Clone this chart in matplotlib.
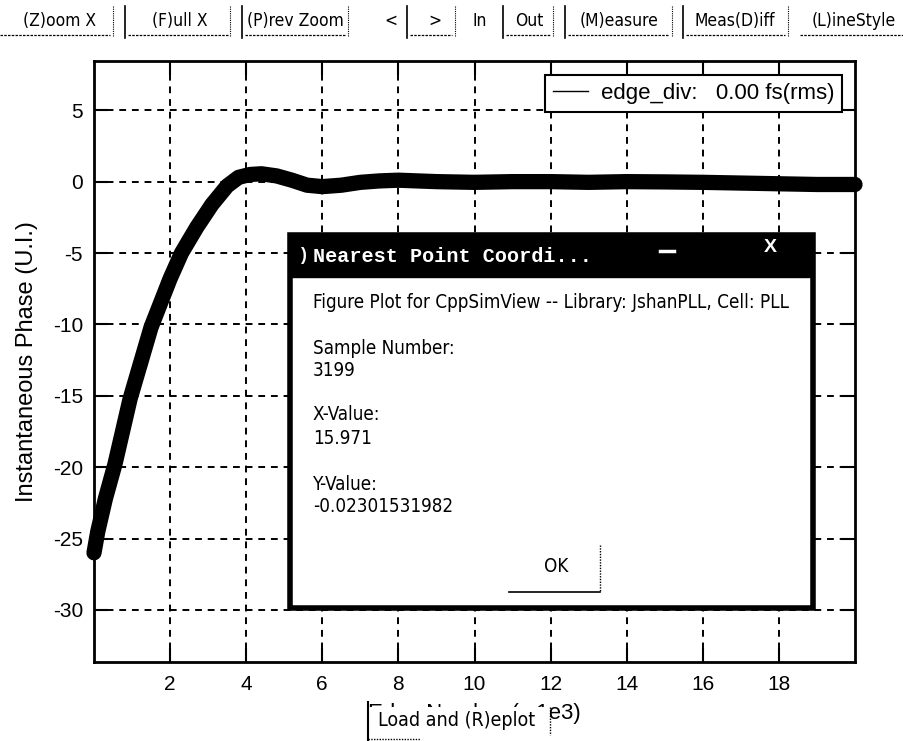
import matplotlib
matplotlib.use("Agg")
import matplotlib.pyplot as plt
from matplotlib.lines import Line2D
from matplotlib.patches import Rectangle

plt.rcParams["axes.unicode_minus"] = False

# DATA (edge number in units of 1e3, phase in U.I.)
edge_k = [0.0, 0.1, 0.3, 0.55, 0.95, 1.5, 2.0, 2.3, 2.7, 3.1, 3.5, 3.8, 4.1, 4.4,
          4.8, 5.2, 5.6, 6.0, 6.5, 7.0, 7.5, 8.0, 9.0, 10.0, 11.0, 12.0, 13.0,
          14.0, 15.0, 16.0, 17.0, 18.0, 19.0, 20.0]
phase_ui = [-26.0, -24.5, -22.2, -19.8, -15.2, -10.2, -6.8, -5.0, -3.2, -1.6, -0.3,
            0.3, 0.5, 0.55, 0.4, 0.1, -0.25, -0.35, -0.25, -0.05, 0.05, 0.1, 0.0,
            -0.05, 0.0, 0.0, -0.05, 0.0, -0.02, -0.05, -0.1, -0.15, -0.2, -0.2]
x_ticks = [2, 4, 6, 8, 10, 12, 14, 16, 18]
y_ticks = [5, 0, -5, -10, -15, -20, -25, -30]
legend_label = "edge_div:   0.00 fs(rms)"
toolbar_labels = ["(Z)oom X", "(F)ull X", "(P)rev Zoom", "<", ">", "In", "Out",
                  "(M)easure", "Meas(D)iff", "(L)ineStyle"]
dialog_lines = ["Figure Plot for CppSimView -- Library: JshanPLL, Cell: PLL",
                "Sample Number:", "3199", "X-Value:", "15.971", "Y-Value:",
                "-0.02301531982"]

REGULAR = ["Liberation Sans", "DejaVu Sans"]
COND = {"family": ["DejaVu Sans"], "stretch": "condensed"}

W, H = 904, 741
fig = plt.figure(figsize=(W / 100, H / 100), dpi=100)
fig.patch.set_facecolor("white")

# MAIN PLOT
ax = fig.add_axes([94 / W, 1 - 662 / H, (855 - 94) / W, (662 - 61) / H])
ax.plot(edge_k, phase_ui, color="black", lw=11, solid_capstyle="round",
        solid_joinstyle="round", clip_on=False, zorder=3)
ax.set_xlim(0, 20)
ax.set_ylim(-33.65, 8.45)
ax.set_xticks(x_ticks)
ax.set_yticks(y_ticks)
ax.tick_params(direction="in", length=10, width=1.5, top=True, right=True,
               labelsize=15, colors="black")
ax.tick_params(axis="x", pad=9)
ax.tick_params(axis="y", pad=8)
for lab in ax.get_xticklabels() + ax.get_yticklabels():
    lab.set_family(REGULAR)
ax.grid(True, color="black", lw=1.4, linestyle=(0, (3.5, 3)))
for sp in ax.spines.values():
    sp.set_linewidth(2)
ax.set_ylabel("Instantaneous Phase (U.I.)", fontsize=17, family=REGULAR)
ax.yaxis.set_label_coords(-(94 - 38) / 761, 0.5)
ax.set_xlabel("Edge Number (x 1e3)", fontsize=16, family=REGULAR)
ax.xaxis.set_label_coords(0.5, -(703 - 662) / 601)

handle = Line2D([], [], color="black", lw=1)
leg = ax.legend([handle], [legend_label], loc="upper right",
                bbox_to_anchor=(842 / W, 1 - 75 / H), bbox_transform=fig.transFigure,
                borderaxespad=0, fancybox=False, framealpha=1, edgecolor="black",
                prop={"family": REGULAR, "size": 16}, handlelength=1.6,
                handletextpad=0.55, borderpad=0.35)
leg.get_frame().set_linewidth(1.5)

# OVERLAY IN PIXEL COORDINATES (toolbar, dialog, replot button)
ov = fig.add_axes([0, 0, 1, 1], zorder=10)
ov.set_xlim(0, W)
ov.set_ylim(H, 0)
ov.axis("off")
ov.patch.set_alpha(0)

# toolbar
text_x = [23, 152, 247, 384, 428, 473, 515, 580, 695, 812]
for lbl, tx in zip(toolbar_labels, text_x):
    ov.text(tx, 21, lbl, fontsize=12.5, va="center", ha="left", **COND)
for sx in [125, 242, 407, 503, 565, 683]:
    ov.plot([sx, sx], [6, 38], color="black", lw=1.2)
for sx in [113, 230, 348, 455, 553, 672, 788]:
    ov.plot([sx, sx], [6, 36], color="black", lw=0.8, linestyle=(0, (1, 1)))
for x0, x1 in [(0, 110), (128, 228), (245, 345), (410, 452), (506, 550),
               (568, 668), (686, 785), (800, 904)]:
    ov.plot([x0, x1], [35, 35], color="black", lw=0.9, linestyle=(0, (2, 1)))

# replot button lying over the x label
ov.add_patch(Rectangle((369, 707), 181, 34, facecolor="white", edgecolor="none"))
ov.plot([368, 368], [702, 741], color="black", lw=1.5)
ov.plot([368, 420], [739, 739], color="black", lw=1, linestyle=(0, (1, 1)))
ov.plot([550, 550], [707, 735], color="black", lw=1, linestyle=(0, (1, 1)))
ov.text(378, 721, "Load and (R)eplot", fontsize=14, va="center", **COND)

# dialog window
ov.add_patch(Rectangle((290, 235), 523, 373, facecolor="white", edgecolor="black",
                       lw=4))
ov.add_patch(Rectangle((290, 235), 523, 42, facecolor="black", edgecolor="black"))
ov.text(300, 256, ")", color="white", fontsize=13, family=REGULAR,
        fontweight="bold", va="center")
ov.text(313, 256, "Nearest Point Coordi...", color="white", fontsize=14.5,
        family=["Liberation Mono", "DejaVu Sans Mono"], fontweight="bold",
        va="center")
ov.plot([660, 674], [251, 251], color="white", lw=2.5)
ov.text(770, 248, "X", color="white", fontsize=14, family=REGULAR,
        fontweight="bold", va="center", ha="center")
line_y = [302, 348, 370, 415, 438, 485, 507]
for txt, ty in zip(dialog_lines, line_y):
    ov.text(313, ty, txt, fontsize=13.5, va="center", **COND)
ov.text(556, 567, "OK", fontsize=13.5, va="center", ha="center", **COND)
ov.plot([600, 600], [545, 592], color="black", lw=1, linestyle=(0, (1, 1)))
ov.plot([509, 600], [592, 592], color="black", lw=1.2)

fig.savefig("out.png", dpi=100)
